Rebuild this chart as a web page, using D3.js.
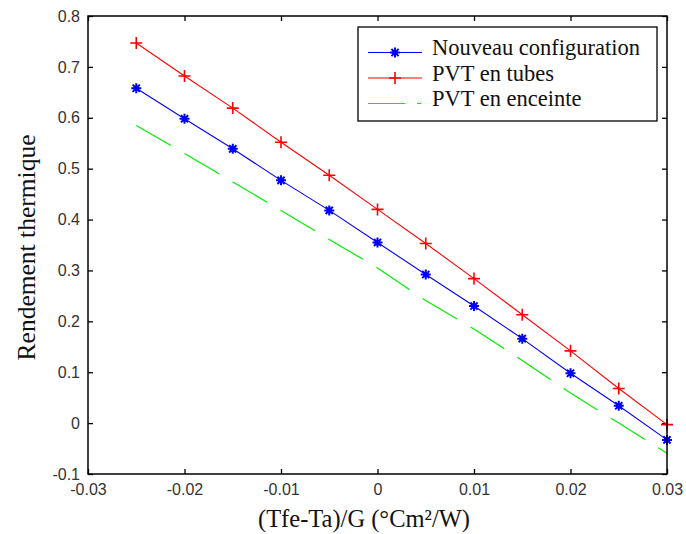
<!DOCTYPE html>
<html><head><meta charset="utf-8">
<script src="https://cdn.jsdelivr.net/npm/d3@7"></script>
<style>body{margin:0;background:#fff}</style>
</head><body><svg id="c" width="686" height="534"></svg>
<script>
const xValues = [-0.025,-0.02,-0.015,-0.01,-0.005,0,0.005,0.01,0.015,0.02,0.025,0.03];
const nouveauConfig = [0.658,0.598,0.539,0.477,0.418,0.355,0.292,0.230,0.166,0.098,0.034,-0.033];
const pvtTubes = [0.747,0.682,0.619,0.552,0.487,0.420,0.353,0.284,0.213,0.142,0.068,-0.003];
const pvtEnceinte = [0.585,0.530,0.474,0.418,0.361,0.305,0.241,0.185,0.123,0.059,0.000,-0.059];
const seriesNames = ["Nouveau configuration","PVT en tubes","PVT en enceinte"];
const xTicks = [-0.03,-0.02,-0.01,0,0.01,0.02,0.03];
const yTicks = [-0.1,0,0.1,0.2,0.3,0.4,0.5,0.6,0.7,0.8];
const xTitle = "(Tfe-Ta)/G (°Cm²/W)";
const yTitle = "Rendement thermique";

const W = 686, H = 534;
const L = 88, R = 667, T = 16, B = 474;
const svg = d3.select("#c");
const x = d3.scaleLinear().domain([-0.03,0.03]).range([L,R]);
const y = d3.scaleLinear().domain([-0.1,0.8]).range([B,T]);

const tickFont = "'Liberation Sans', Arial, sans-serif";
const serif = "'Liberation Serif', 'Times New Roman', serif";

function styleAxis(g){
  g.select(".domain").remove();
  g.selectAll(".tick line").attr("stroke","#000").attr("stroke-width",1.3);
  g.selectAll(".tick text").attr("font-family",tickFont).attr("font-size",16).attr("fill","#333");
}
const fmt = d => String(d);
svg.append("g").attr("transform",`translate(0,${B})`)
  .call(d3.axisBottom(x).tickValues(xTicks).tickSize(-5).tickPadding(10).tickFormat(fmt)).call(styleAxis);
svg.append("g").attr("transform",`translate(0,${T})`)
  .call(d3.axisTop(x).tickValues(xTicks).tickSize(-5).tickFormat("")).call(styleAxis);
svg.append("g").attr("transform",`translate(${L},0)`)
  .call(d3.axisLeft(y).tickValues(yTicks).tickSize(-5).tickPadding(8).tickFormat(fmt)).call(styleAxis);
svg.append("g").attr("transform",`translate(${R},0)`)
  .call(d3.axisRight(y).tickValues(yTicks).tickSize(-5).tickFormat("")).call(styleAxis);

const line = d3.line().x((d,i)=>x(xValues[i])).y(d=>y(d));

// green dashed
const segLen = Math.hypot(x(xValues[1])-x(xValues[0]), y(pvtEnceinte[1])-y(pvtEnceinte[0]));
svg.append("path").attr("d",line(pvtEnceinte)).attr("fill","none").attr("stroke","#00ee00")
  .attr("stroke-width",1.2).attr("stroke-dasharray",`${0.72*segLen} ${0.28*segLen}`);

// blue
svg.append("path").attr("d",line(nouveauConfig)).attr("fill","none").attr("stroke","#0000ff").attr("stroke-width",1.1);
// red
svg.append("path").attr("d",line(pvtTubes)).attr("fill","none").attr("stroke","#ff0000").attr("stroke-width",1.1);

const plusPath = "M-6,0H6M0,-6V6";
const starPath = "M-5,0H5M0,-5V5M-3.6,-3.6L3.6,3.6M-3.6,3.6L3.6,-3.6";
function blueMarker(g){
  g.append("path").attr("d",starPath).attr("stroke","#0000ff").attr("stroke-width",2);
  g.append("circle").attr("r",2.8).attr("fill","#0000ff");
}
function redMarker(g){
  g.append("path").attr("d",plusPath).attr("stroke","#ff0000").attr("stroke-width",1.6);
}
nouveauConfig.forEach((v,i)=>{ const g=svg.append("g").attr("transform",`translate(${x(xValues[i])},${y(v)})`); blueMarker(g); });
pvtTubes.forEach((v,i)=>{ const g=svg.append("g").attr("transform",`translate(${x(xValues[i])},${y(v)})`); redMarker(g); });

// frame
svg.append("rect").attr("x",L).attr("y",T).attr("width",R-L).attr("height",B-T)
  .attr("fill","none").attr("stroke","#000").attr("stroke-width",1.5);

// legend
const lg = svg.append("g");
lg.append("rect").attr("x",358).attr("y",27).attr("width",299).attr("height",94)
  .attr("fill","#fff").attr("stroke","#000").attr("stroke-width",1.3);
const rows = [52.5,78,103.5];
const colors = ["#0000ff","#ff0000","#00ee00"];
seriesNames.forEach((n,i)=>{
  const ry = rows[i];
  const ln = lg.append("line").attr("x1",368).attr("x2",i===2?421:422).attr("y1",ry).attr("y2",ry)
    .attr("stroke",colors[i]).attr("stroke-width",1.2);
  if(i===2) ln.attr("stroke-dasharray","37 12");
  const g = lg.append("g").attr("transform",`translate(395,${ry})`);
  if(i===0) blueMarker(g);
  if(i===1) redMarker(g);
  lg.append("text").attr("x",432).attr("y",ry+2.5).attr("font-family",serif).attr("font-size",22.5)
    .attr("fill","#111").text(n);
});

// titles
svg.append("text").attr("x",364).attr("y",527).attr("text-anchor","middle")
  .attr("font-family",serif).attr("font-size",24.5).attr("fill","#111").text(xTitle);
svg.append("text").attr("transform",`translate(35,247.5) rotate(-90)`).attr("text-anchor","middle")
  .attr("font-family",serif).attr("font-size",25.5).attr("fill","#111").text(yTitle);
</script></body></html>
